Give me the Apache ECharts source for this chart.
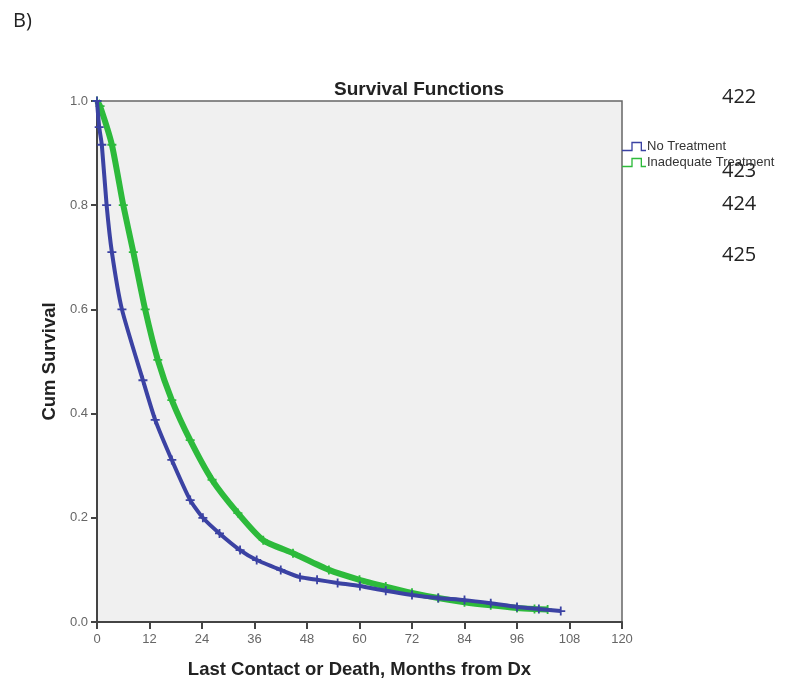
<!DOCTYPE html>
<html>
<head>
<meta charset="utf-8">
<script src="https://cdn.jsdelivr.net/npm/echarts@6/dist/echarts.min.js"></script>
<style>
	html, body { margin: 0; padding: 0; background: #fff; }
	#chart { width: 787px; height: 684px; }
</style>
</head>
<body>
<div id="chart"></div>
<script>
// 读图得到的数据
const seriesNames = ['No Treatment', 'Inadequate Treatment']
const xTicks = [0, 12, 24, 36, 48, 60, 72, 84, 96, 108, 120]
const yTicks = [0, 0.2, 0.4, 0.6, 0.8, 1.0]
const lineNumbers = ['422', '423', '424', '425']

// No Treatment
const noTxMonths = [0, 0.5, 1.1, 2.2, 3.4, 5.7, 10.5, 13.3, 17.1, 21.3, 24.2, 28, 32.7, 36.5, 42, 46.4, 50.3, 55, 60.1, 66, 72, 78, 84, 90, 96, 101, 106]
const noTxSurv = [1.0, 0.95, 0.916, 0.80, 0.71, 0.60, 0.464, 0.388, 0.311, 0.234, 0.20, 0.17, 0.138, 0.119, 0.10, 0.086, 0.081, 0.075, 0.069, 0.06, 0.052, 0.046, 0.042, 0.036, 0.029, 0.025, 0.021]

// Inadequate Treatment
const inadMonths = [0, 0.7, 3.4, 6, 8.3, 11, 13.9, 17.1, 21.3, 26.3, 32.2, 38, 44.8, 53, 60, 66, 72, 78, 84, 90, 96, 100, 103]
const inadSurv = [1.0, 0.99, 0.916, 0.80, 0.71, 0.60, 0.503, 0.426, 0.349, 0.273, 0.209, 0.157, 0.132, 0.10, 0.081, 0.068, 0.056, 0.046, 0.038, 0.032, 0.027, 0.025, 0.024]

function pairs(xs, ys) {
	return xs.map(function (x, i) { return [x, ys[i]] })
}

// 删失标记 +
const plusIcon = 'path://M4,0H6V4H10V6H6V10H4V6H0V4H4Z'
// 图例里的台阶线
const stepIcon = 'path://M0,7H7V1H15V7H18V8H14V2H8V8H0Z'

let myChart = echarts.init(document.getElementById('chart'))
const font = 'Liberation Sans, Arial, sans-serif'
const sideFont = 'Open Sans, sans-serif'
const option = {
	animation: false,
	color: ['#3b42a3', '#2dba3b'],
	title: {
		text: 'Survival Functions',
		left: 329,
		top: 75,
		textStyle: { fontFamily: font, fontSize: 19, fontWeight: 'bold', color: '#222' }
	},
	legend: {
		orient: 'vertical',
		left: 617,
		top: 135,
		itemGap: 3,
		itemWidth: 24,
		itemHeight: 10,
		icon: stepIcon,
		data: seriesNames,
		textStyle: { fontFamily: font, fontSize: 13, color: '#333', padding: [0, 0, 0, -4] }
	},
	grid: {
		left: 97,
		top: 101,
		right: 165,
		bottom: 62,
		show: true,
		backgroundColor: '#f0f0f0',
		borderColor: '#666',
		borderWidth: 1.5
	},
	xAxis: {
		type: 'value',
		min: xTicks[0],
		max: xTicks[xTicks.length - 1],
		interval: 12,
		name: 'Last Contact or Death, Months from Dx',
		nameLocation: 'middle',
		nameGap: 38,
		nameTextStyle: { fontFamily: font, fontSize: 18.5, fontWeight: 'bold', color: '#222' },
		axisLine: { lineStyle: { color: '#444', width: 2 } },
		axisTick: { show: true, length: 7, lineStyle: { color: '#444', width: 2 } },
		axisLabel: { fontFamily: font, fontSize: 13, color: '#666', margin: 11 },
		splitLine: { show: false }
	},
	yAxis: {
		type: 'value',
		min: yTicks[0],
		max: yTicks[yTicks.length - 1],
		interval: 0.2,
		name: 'Cum Survival',
		nameLocation: 'middle',
		nameGap: 37,
		nameTextStyle: { fontFamily: font, fontSize: 18.5, fontWeight: 'bold', color: '#222' },
		axisLine: { show: true, lineStyle: { color: '#444', width: 2 } },
		axisTick: { show: true, length: 6, lineStyle: { color: '#444', width: 2 } },
		axisLabel: {
			fontFamily: font, fontSize: 13, color: '#666', margin: 9,
			formatter: function (v) { return v.toFixed(1) }
		},
		splitLine: { show: false }
	},
	series: [
		{
			name: seriesNames[1],
			type: 'line',
			z: 2,
			smooth: 0.2,
			data: pairs(inadMonths, inadSurv),
			lineStyle: { width: 6, color: '#2dba3b' },
			symbol: plusIcon,
			symbolSize: 9,
			showAllSymbol: true,
			itemStyle: { color: '#2dba3b' }
		},
		{
			name: seriesNames[0],
			type: 'line',
			z: 3,
			smooth: 0.2,
			data: pairs(noTxMonths, noTxSurv),
			lineStyle: { width: 4, color: '#3b42a3' },
			symbol: plusIcon,
			symbolSize: 9,
			showAllSymbol: true,
			itemStyle: { color: '#3b42a3' }
		}
	],
	graphic: [
		{ type: 'text', left: 13, top: 11, style: { text: 'B)', fontFamily: sideFont, fontSize: 20, fill: '#222' } },
		{ type: 'text', left: 722, top: 87, style: { text: lineNumbers[0], fontFamily: sideFont, fontSize: 20, fill: '#222' } },
		{ type: 'text', left: 722, top: 161, style: { text: lineNumbers[1], fontFamily: sideFont, fontSize: 20, fill: '#222' } },
		{ type: 'text', left: 722, top: 194, style: { text: lineNumbers[2], fontFamily: sideFont, fontSize: 20, fill: '#222' } },
		{ type: 'text', left: 722, top: 245, style: { text: lineNumbers[3], fontFamily: sideFont, fontSize: 20, fill: '#222' } }
	]
}
myChart.setOption(option)
window.addEventListener('resize', function () {
	myChart.resize();
})
</script>
</body>
</html>
